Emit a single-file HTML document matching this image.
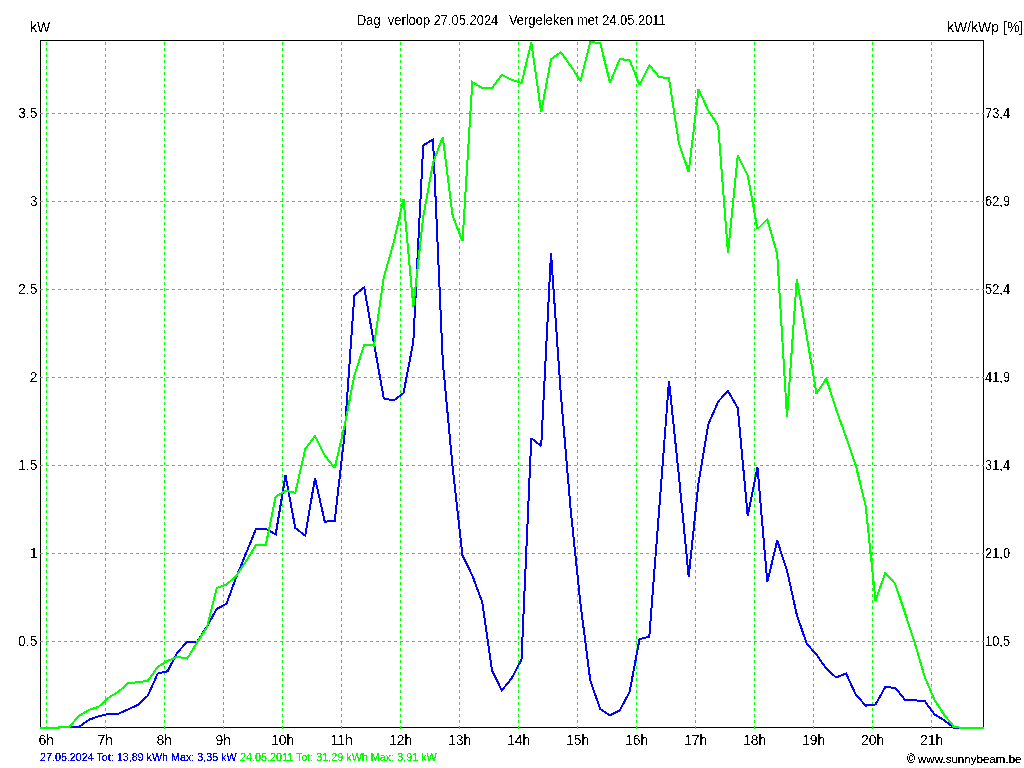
<!DOCTYPE html>
<html><head><meta charset="utf-8"><title>Dag verloop</title>
<style>html,body{margin:0;padding:0;background:#fff;width:1024px;height:768px;overflow:hidden}svg{display:block}</style>
</head><body>
<svg width="1024" height="768" viewBox="0 0 1024 768">
<rect width="1024" height="768" fill="#fff"/>
<rect x="40.5" y="40.5" width="943" height="687" fill="none" stroke="#000" stroke-width="1" shape-rendering="crispEdges"/>
<g stroke="#00ff00" stroke-width="1" stroke-dasharray="3 3" shape-rendering="crispEdges"><line x1="46.5" y1="42" x2="46.5" y2="729"/><line x1="105.5" y1="42" x2="105.5" y2="729"/><line x1="164.5" y1="42" x2="164.5" y2="729"/><line x1="223.5" y1="42" x2="223.5" y2="729"/><line x1="282.5" y1="42" x2="282.5" y2="729"/><line x1="341.5" y1="42" x2="341.5" y2="729"/><line x1="400.5" y1="42" x2="400.5" y2="729"/><line x1="459.5" y1="42" x2="459.5" y2="729"/><line x1="518.5" y1="42" x2="518.5" y2="729"/><line x1="577.5" y1="42" x2="577.5" y2="729"/><line x1="636.5" y1="42" x2="636.5" y2="729"/><line x1="695.5" y1="42" x2="695.5" y2="729"/><line x1="754.5" y1="42" x2="754.5" y2="729"/><line x1="813.5" y1="42" x2="813.5" y2="729"/><line x1="872.5" y1="42" x2="872.5" y2="729"/><line x1="931.5" y1="42" x2="931.5" y2="729"/><line x1="40" y1="113.5" x2="984" y2="113.5"/><line x1="40" y1="201.5" x2="984" y2="201.5"/><line x1="40" y1="289.5" x2="984" y2="289.5"/><line x1="40" y1="377.5" x2="984" y2="377.5"/><line x1="40" y1="465.5" x2="984" y2="465.5"/><line x1="40" y1="553.5" x2="984" y2="553.5"/><line x1="40" y1="641.5" x2="984" y2="641.5"/></g>
<clipPath id="c"><rect x="40" y="41" width="946" height="689"/></clipPath>
<g clip-path="url(#c)" fill="none" stroke-width="2" shape-rendering="crispEdges" stroke-linejoin="miter" stroke-miterlimit="2"><polyline stroke="#0000ff" points="39.7,728.0 59.0,728.0 59.0,727.0 69.2,727.0 79.0,727.0 88.8,719.8 98.7,716.2 108.5,714.0 118.3,713.7 128.2,709.4 138.0,704.8 147.8,695.7 157.7,673.6 167.5,671.3 177.3,652.7 187.2,641.7 197.0,641.7 206.8,626.8 216.7,609.0 226.5,603.7 236.3,577.0 246.2,553.0 256.0,528.8 265.8,528.8 275.7,534.4 285.5,475.5 295.3,528.0 305.2,535.6 315.0,478.0 324.8,521.7 334.7,520.9 344.5,435.0 354.3,295.5 364.2,287.3 374.0,343.4 383.8,398.5 393.7,400.5 403.5,393.0 413.3,342.0 423.2,145.4 433.0,139.5 442.8,362.0 452.7,468.0 462.5,555.5 472.3,575.4 482.2,602.0 492.0,670.5 501.8,690.4 511.7,678.3 521.5,659.5 531.3,438.1 541.2,446.1 551.0,252.9 560.8,394.0 570.7,510.0 580.5,604.0 590.3,680.6 600.2,709.0 610.0,715.4 619.8,710.3 629.7,691.7 639.5,639.2 649.3,636.7 659.2,509.0 669.0,381.0 678.8,475.0 688.7,576.8 698.5,483.0 708.3,424.4 718.2,401.5 728.0,390.9 737.8,408.1 747.7,516.2 757.5,467.5 767.3,582.2 777.2,540.6 787.0,570.4 796.8,614.8 806.7,643.7 816.5,654.7 826.3,668.7 836.2,677.5 846.0,673.4 855.8,694.6 865.7,705.6 875.5,704.5 885.3,687.1 895.2,687.8 905.0,699.8 914.8,700.4 924.7,701.0 934.5,714.4 944.3,720.3 954.2,728.0 964.0,728.0 973.8,728.0 983.7,728.0"/><polyline stroke="#00ff00" points="39.7,728.0 59.0,728.0 59.0,727.0 69.2,727.0 79.0,715.9 88.8,710.0 98.7,706.8 108.5,697.7 118.3,691.8 128.2,683.1 138.0,682.3 147.8,680.8 157.7,667.0 167.5,661.0 177.3,656.8 187.2,658.6 197.0,642.6 206.8,627.7 216.7,587.9 226.5,584.5 236.3,576.0 246.2,561.0 256.0,544.9 265.8,544.9 275.7,496.7 285.5,490.8 295.3,492.8 305.2,449.2 315.0,436.0 324.8,455.5 334.7,468.0 344.5,426.0 354.3,376.0 364.2,344.7 374.0,345.6 383.8,277.3 393.7,242.4 403.5,199.0 413.3,306.8 423.2,217.0 433.0,163.0 442.8,136.9 452.7,216.0 462.5,241.2 472.3,82.0 482.2,88.1 492.0,88.1 501.8,75.0 511.7,79.8 521.5,83.1 531.3,42.5 541.2,112.3 551.0,59.2 560.8,52.3 570.7,65.8 580.5,81.2 590.3,42.0 600.2,43.0 610.0,82.6 619.8,59.1 629.7,60.2 639.5,84.8 649.3,65.2 659.2,77.0 669.0,78.4 678.8,142.7 688.7,172.1 698.5,89.5 708.3,110.5 718.2,125.9 728.0,253.0 737.8,155.3 747.7,175.2 757.5,229.0 767.3,219.2 777.2,254.0 787.0,417.0 796.8,279.0 806.7,336.0 816.5,393.5 826.3,378.6 836.2,409.5 846.0,436.9 855.8,465.4 865.7,506.0 875.5,600.7 885.3,572.9 895.2,583.8 905.0,613.0 914.8,643.0 924.7,677.0 934.5,699.8 944.3,715.0 954.2,727.0 964.0,728.0 973.8,728.0 983.7,728.0"/></g>
<filter id="th" x="0" y="0" width="1024" height="768" filterUnits="userSpaceOnUse"><feComponentTransfer><feFuncA type="discrete" tableValues="0 1"/></feComponentTransfer></filter>
<filter id="th2" x="0" y="0" width="1024" height="768" filterUnits="userSpaceOnUse"><feComponentTransfer><feFuncA type="discrete" tableValues="0 0 0 1 1 1 1 1"/></feComponentTransfer></filter>
<g font-family="Liberation Sans, Arial, sans-serif" fill="#000" filter="url(#th)"><text xml:space="preserve" x="30" y="32" font-size="14" textLength="20.22" lengthAdjust="spacingAndGlyphs">kW</text>
<text xml:space="preserve" x="357" y="25" font-size="14" textLength="308.74" lengthAdjust="spacingAndGlyphs">Dag  verloop 27.05.2024   Vergeleken met 24.05.2011</text>
<text xml:space="preserve" x="947" y="32" font-size="14" textLength="76.23" lengthAdjust="spacingAndGlyphs">kW/kWp [%]</text>
<text xml:space="preserve" x="18.0" y="118" font-size="14" textLength="19.47" lengthAdjust="spacingAndGlyphs">3.5</text>
<text xml:space="preserve" x="29.67" y="206" font-size="14" textLength="7.8" lengthAdjust="spacingAndGlyphs">3</text>
<text xml:space="preserve" x="18.0" y="294" font-size="14" textLength="19.47" lengthAdjust="spacingAndGlyphs">2.5</text>
<text xml:space="preserve" x="29.67" y="382" font-size="14" textLength="7.8" lengthAdjust="spacingAndGlyphs">2</text>
<text xml:space="preserve" x="18.0" y="470" font-size="14" textLength="19.47" lengthAdjust="spacingAndGlyphs">1.5</text>
<text xml:space="preserve" x="29.67" y="558" font-size="14" textLength="7.8" lengthAdjust="spacingAndGlyphs">1</text>
<text xml:space="preserve" x="18.0" y="646" font-size="14" textLength="19.47" lengthAdjust="spacingAndGlyphs">0.5</text>
<text xml:space="preserve" x="985" y="118" font-size="14" textLength="25.07" lengthAdjust="spacingAndGlyphs">73,4</text>
<text xml:space="preserve" x="985" y="206" font-size="14" textLength="25.07" lengthAdjust="spacingAndGlyphs">62,9</text>
<text xml:space="preserve" x="985" y="294" font-size="14" textLength="25.07" lengthAdjust="spacingAndGlyphs">52,4</text>
<text xml:space="preserve" x="985" y="382" font-size="14" textLength="25.07" lengthAdjust="spacingAndGlyphs">41,9</text>
<text xml:space="preserve" x="985" y="470" font-size="14" textLength="25.07" lengthAdjust="spacingAndGlyphs">31,4</text>
<text xml:space="preserve" x="985" y="558" font-size="14" textLength="25.07" lengthAdjust="spacingAndGlyphs">21,0</text>
<text xml:space="preserve" x="985" y="646" font-size="14" textLength="25.07" lengthAdjust="spacingAndGlyphs">10,5</text>
<text xml:space="preserve" x="38.5" y="745" font-size="14" textLength="15.58" lengthAdjust="spacingAndGlyphs">6h</text>
<text xml:space="preserve" x="97.5" y="745" font-size="14" textLength="15.58" lengthAdjust="spacingAndGlyphs">7h</text>
<text xml:space="preserve" x="156.5" y="745" font-size="14" textLength="15.58" lengthAdjust="spacingAndGlyphs">8h</text>
<text xml:space="preserve" x="215.5" y="745" font-size="14" textLength="15.58" lengthAdjust="spacingAndGlyphs">9h</text>
<text xml:space="preserve" x="271.0" y="745" font-size="14" textLength="23.36" lengthAdjust="spacingAndGlyphs">10h</text>
<text xml:space="preserve" x="330.5" y="745" font-size="14" textLength="22.33" lengthAdjust="spacingAndGlyphs">11h</text>
<text xml:space="preserve" x="389.0" y="745" font-size="14" textLength="23.36" lengthAdjust="spacingAndGlyphs">12h</text>
<text xml:space="preserve" x="448.0" y="745" font-size="14" textLength="23.36" lengthAdjust="spacingAndGlyphs">13h</text>
<text xml:space="preserve" x="507.0" y="745" font-size="14" textLength="23.36" lengthAdjust="spacingAndGlyphs">14h</text>
<text xml:space="preserve" x="566.0" y="745" font-size="14" textLength="23.36" lengthAdjust="spacingAndGlyphs">15h</text>
<text xml:space="preserve" x="625.0" y="745" font-size="14" textLength="23.36" lengthAdjust="spacingAndGlyphs">16h</text>
<text xml:space="preserve" x="684.0" y="745" font-size="14" textLength="23.36" lengthAdjust="spacingAndGlyphs">17h</text>
<text xml:space="preserve" x="743.0" y="745" font-size="14" textLength="23.36" lengthAdjust="spacingAndGlyphs">18h</text>
<text xml:space="preserve" x="802.0" y="745" font-size="14" textLength="23.36" lengthAdjust="spacingAndGlyphs">19h</text>
<text xml:space="preserve" x="861.0" y="745" font-size="14" textLength="23.36" lengthAdjust="spacingAndGlyphs">20h</text>
<text xml:space="preserve" x="920.0" y="745" font-size="14" textLength="23.36" lengthAdjust="spacingAndGlyphs">21h</text></g>
<g font-family="Liberation Sans, Arial, sans-serif" fill="#000" filter="url(#th2)"><text xml:space="preserve" x="40" y="761" font-size="11" textLength="196.56" lengthAdjust="spacingAndGlyphs" fill="#0000ff">27.05.2024 Tot: 13,89 kWh Max: 3,35 kW</text>
<text xml:space="preserve" x="240" y="761" font-size="11" textLength="196.75" lengthAdjust="spacingAndGlyphs" fill="#00ff00">24.05.2011 Tot: 31,29 kWh Max: 3,91 kW</text>
<text xml:space="preserve" x="907" y="763" font-size="12.5" textLength="8.07" lengthAdjust="spacingAndGlyphs">©</text>
<text xml:space="preserve" x="918" y="763" font-size="11" textLength="103.53" lengthAdjust="spacingAndGlyphs">www.sunnybeam.be</text></g>
</svg>
</body></html>
